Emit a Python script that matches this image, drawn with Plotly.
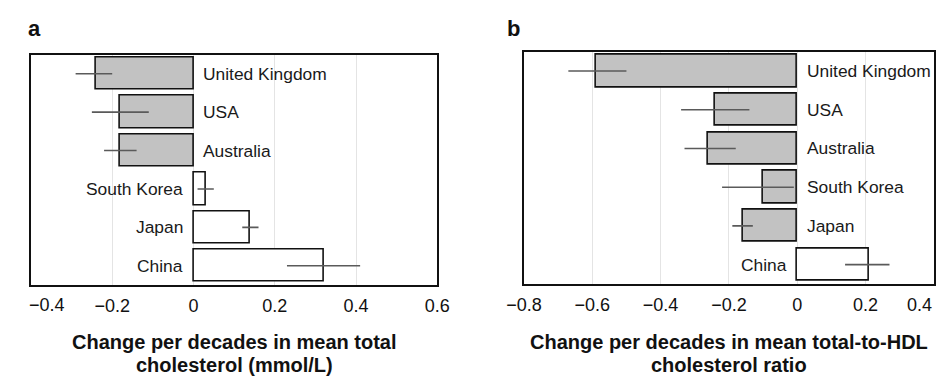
import plotly.graph_objects as go

countries = ["United Kingdom", "USA", "Australia", "South Korea", "Japan", "China"]

# Panel a: change per decade in mean total cholesterol (mmol/L)
a_val = [-0.24, -0.18, -0.18, 0.03, 0.14, 0.32]
a_lo = [-0.29, -0.25, -0.22, 0.01, 0.12, 0.23]
a_hi = [-0.20, -0.11, -0.14, 0.05, 0.16, 0.41]

# Panel b: change per decade in mean total-to-HDL cholesterol ratio
b_val = [-0.59, -0.24, -0.26, -0.10, -0.16, 0.21]
b_lo = [-0.67, -0.34, -0.33, -0.22, -0.19, 0.14]
b_hi = [-0.50, -0.14, -0.18, -0.01, -0.13, 0.27]

a_ticks = [-0.4, -0.2, 0, 0.2, 0.4, 0.6]
b_ticks = [-0.8, -0.6, -0.4, -0.2, 0, 0.2, 0.4]

a_title = ["Change per decades in mean total", "cholesterol (mmol/L)"]
b_title = ["Change per decades in mean total-to-HDL", "cholesterol ratio"]

FONT = "Liberation Sans, Arial, sans-serif"
GRAY = "#c2c2c2"
OFFY = 8
W, H = 941, 376 - OFFY
SX, OX = 0.966, 26.1  # observed horizontal mapping of the captured page


def fx(x):
    """target picture x (px) -> paper fraction"""
    return ((x - OX) / SX) / W


def fy(y):
    return 1 - (y - OFFY) / H


def fmt(v):
    if abs(v) < 1e-9:
        return "0"
    s = f"{abs(v):.1f}"
    return ("\u2212" + s) if v < 0 else s


fig = go.Figure()

panels = [
    (a_val, a_lo, a_hi, "x", "y"),
    (b_val, b_lo, b_hi, "x2", "y2"),
]
for vals, lo, hi, xa, ya in panels:
    fig.add_trace(go.Bar(
        y=countries, x=vals, orientation="h", width=0.84,
        marker=dict(color=[GRAY if v < 0 else "white" for v in vals],
                    line=dict(color="#111111", width=1.6)),
        error_x=dict(type="data", symmetric=False,
                     array=[h - v for v, h in zip(vals, hi)],
                     arrayminus=[v - l for v, l in zip(vals, lo)],
                     color="#5a5a5a", thickness=1.6, width=0),
        xaxis=xa, yaxis=ya, showlegend=False, hoverinfo="skip",
    ))
    for c, v in zip(countries, vals):
        fig.add_annotation(
            x=0, y=c, xref=xa, yref=ya, text=c, showarrow=False,
            xanchor="left" if v < 0 else "right",
            xshift=8 if v < 0 else -8,
            font=dict(family=FONT, size=17.4, color="#1a1a1a"),
        )

TICKFONT = dict(family=FONT, size=18, color="#111111")
axis_common = dict(
    showgrid=True, gridcolor="#e4e4e4", gridwidth=1, zeroline=False,
    showline=True, mirror=True, linecolor="#111111", linewidth=1.6,
    ticks="outside", ticklen=4, tickcolor="rgba(0,0,0,0)",
    tickfont=TICKFONT,
)
yaxis_common = dict(
    showgrid=False, zeroline=False, showticklabels=False,
    showline=True, mirror=True, linecolor="#111111", linewidth=1.6,
    ticks="", range=[5.5, -0.5],
)

xa_dom = [fx(31), fx(437)]
ya_dom = [fy(285), fy(54.5)]
xb_dom = [fx(523.5), fx(933)]
yb_dom = [fy(284), fy(51.7)]

# edge tick labels are pulled inside the page, drawn as annotations
a_ticktext = [fmt(t) for t in a_ticks]
a_ticktext[0] = ""
b_ticktext = [fmt(t) for t in b_ticks]
b_ticktext[-1] = ""

fig.update_layout(
    width=W, height=H,
    margin=dict(l=0, r=0, t=0, b=0),
    paper_bgcolor="white", plot_bgcolor="white",
    bargap=0,
    xaxis=dict(domain=xa_dom, range=[a_ticks[0], a_ticks[-1]],
               tickvals=a_ticks, ticktext=a_ticktext,
               anchor="y", **axis_common),
    yaxis=dict(domain=ya_dom, anchor="x", **yaxis_common),
    xaxis2=dict(domain=xb_dom, range=[b_ticks[0], b_ticks[-1]],
                tickvals=b_ticks, ticktext=b_ticktext,
                anchor="y2", **axis_common),
    yaxis2=dict(domain=yb_dom, anchor="x2", **yaxis_common),
)

fig.add_annotation(
    x=a_ticks[0], xref="x", y=fy(305), yref="paper",
    text=fmt(a_ticks[0]), showarrow=False, xanchor="left", yanchor="middle",
    xshift=-4, font=TICKFONT,
)
fig.add_annotation(
    x=b_ticks[-1], xref="x2", y=fy(305), yref="paper",
    text=fmt(b_ticks[-1]), showarrow=False, xanchor="right", yanchor="middle",
    xshift=0, font=TICKFONT,
)

# axis titles (two lines, tight spacing)
for title, dom in [(a_title, xa_dom), (b_title, xb_dom)]:
    cx = (dom[0] + dom[1]) / 2
    for i, line in enumerate(title):
        fig.add_annotation(
            x=cx, y=fy(342 + 22.5 * i), xref="paper", yref="paper",
            text=f"<b>{line}</b>", showarrow=False,
            xanchor="center", yanchor="middle",
            font=dict(family=FONT, size=20, color="#111111"),
        )

# panel letters
for letter, lx in [("a", 26.5), ("b", 505)]:
    fig.add_annotation(
        x=max(fx(lx), 0), y=fy(28), xref="paper", yref="paper",
        text=f"<b>{letter}</b>", showarrow=False,
        xanchor="left", yanchor="middle",
        font=dict(family=FONT, size=22, color="#111111"),
    )

fig.write_html("out.html")
